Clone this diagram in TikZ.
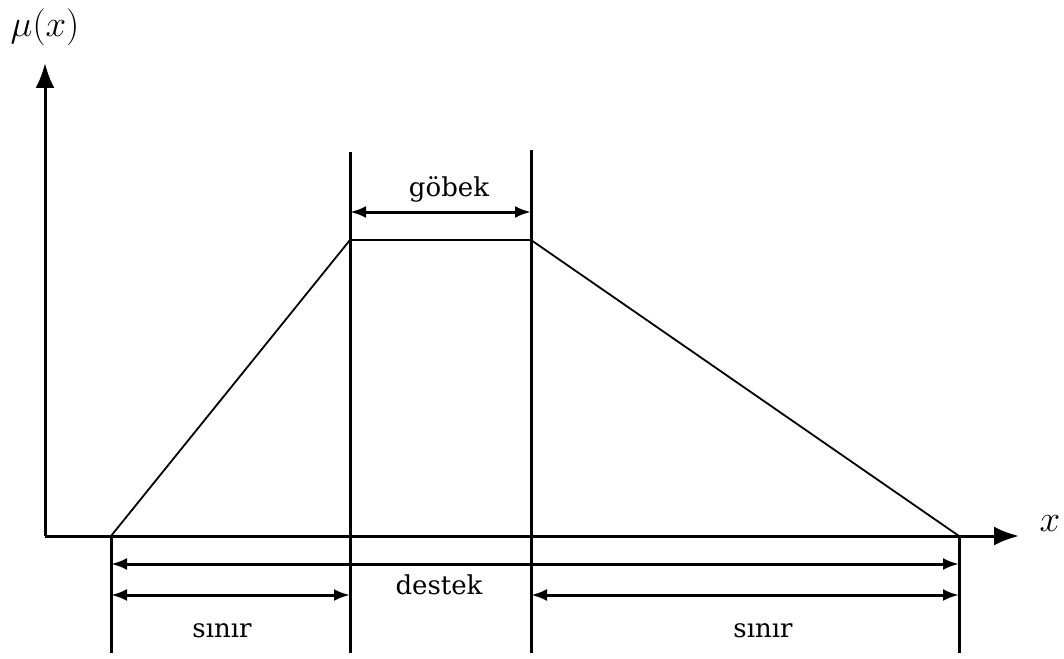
\RequirePackage{fix-cm}
\documentclass[tikz,border=0pt]{standalone}
\usepackage{fontspec}
\setmainfont{DejaVu Serif}
\usetikzlibrary{arrows.meta}
\begin{document}
\begin{tikzpicture}[x=1pt,y=-1pt,
  thickline/.style={line width=3pt},
  thinline/.style={line width=1.8pt},
  dim/.style={line width=3pt,{Latex[length=16pt,width=12pt]}-{Latex[length=16pt,width=12pt]}},
  axis/.style={line width=3pt,-{Latex[length=25pt,width=19pt]}},
  lbl/.style={font=\fontsize{26}{31}\selectfont,inner sep=0pt,anchor=base},
  mlbl/.style={font=\fontsize{37}{44}\selectfont,inner sep=0pt}]
\useasboundingbox (0,0) rectangle (1064,658);
% coordinates
\coordinate (O) at (45,536);
\coordinate (ytop) at (45,63);
\coordinate (xend) at (1019,536);
\coordinate (A) at (111,536);
\coordinate (B) at (350,240);
\coordinate (C) at (531,240);
\coordinate (D) at (959,536);
% axes
\draw[axis] (O) -- (ytop);
\draw[axis] (O) -- (xend);
\node[mlbl] (mu) at (45,27) {$\mu(x)$};
\node[mlbl] (xl) at (1050,524) {$x$};
% trapezoid
\draw[thinline] (A) -- (B) -- (C) -- (D);
% vertical lines
\coordinate (A2) at (111,653);
\coordinate (B1) at (350,152);
\coordinate (B2) at (350,653);
\coordinate (C1) at (531,150);
\coordinate (C2) at (531,653);
\coordinate (D2) at (959,653);
\draw[thickline] (A) -- (A2);
\draw[thickline] (B1) -- (B2);
\draw[thickline] (C1) -- (C2);
\draw[thickline] (D) -- (D2);
% dimension arrows
\coordinate (g1) at (350,212);
\coordinate (g2) at (531,212);
\draw[dim] (g1) -- (g2);
\node[lbl] (gobek) at (449,196) {göbek};
\coordinate (d1) at (111,564);
\coordinate (d2) at (959,564);
\draw[dim] (d1) -- (d2);
\node[lbl] (destek) at (439,594) {destek};
\coordinate (s1) at (111,595);
\coordinate (s2) at (350,595);
\coordinate (s3) at (531,595);
\coordinate (s4) at (959,595);
\draw[dim] (s1) -- (s2);
\draw[dim] (s3) -- (s4);
\node[lbl] (sinir1) at (222,637) {sınır};
\node[lbl] (sinir2) at (763,637) {sınır};
\end{tikzpicture}
\end{document}
